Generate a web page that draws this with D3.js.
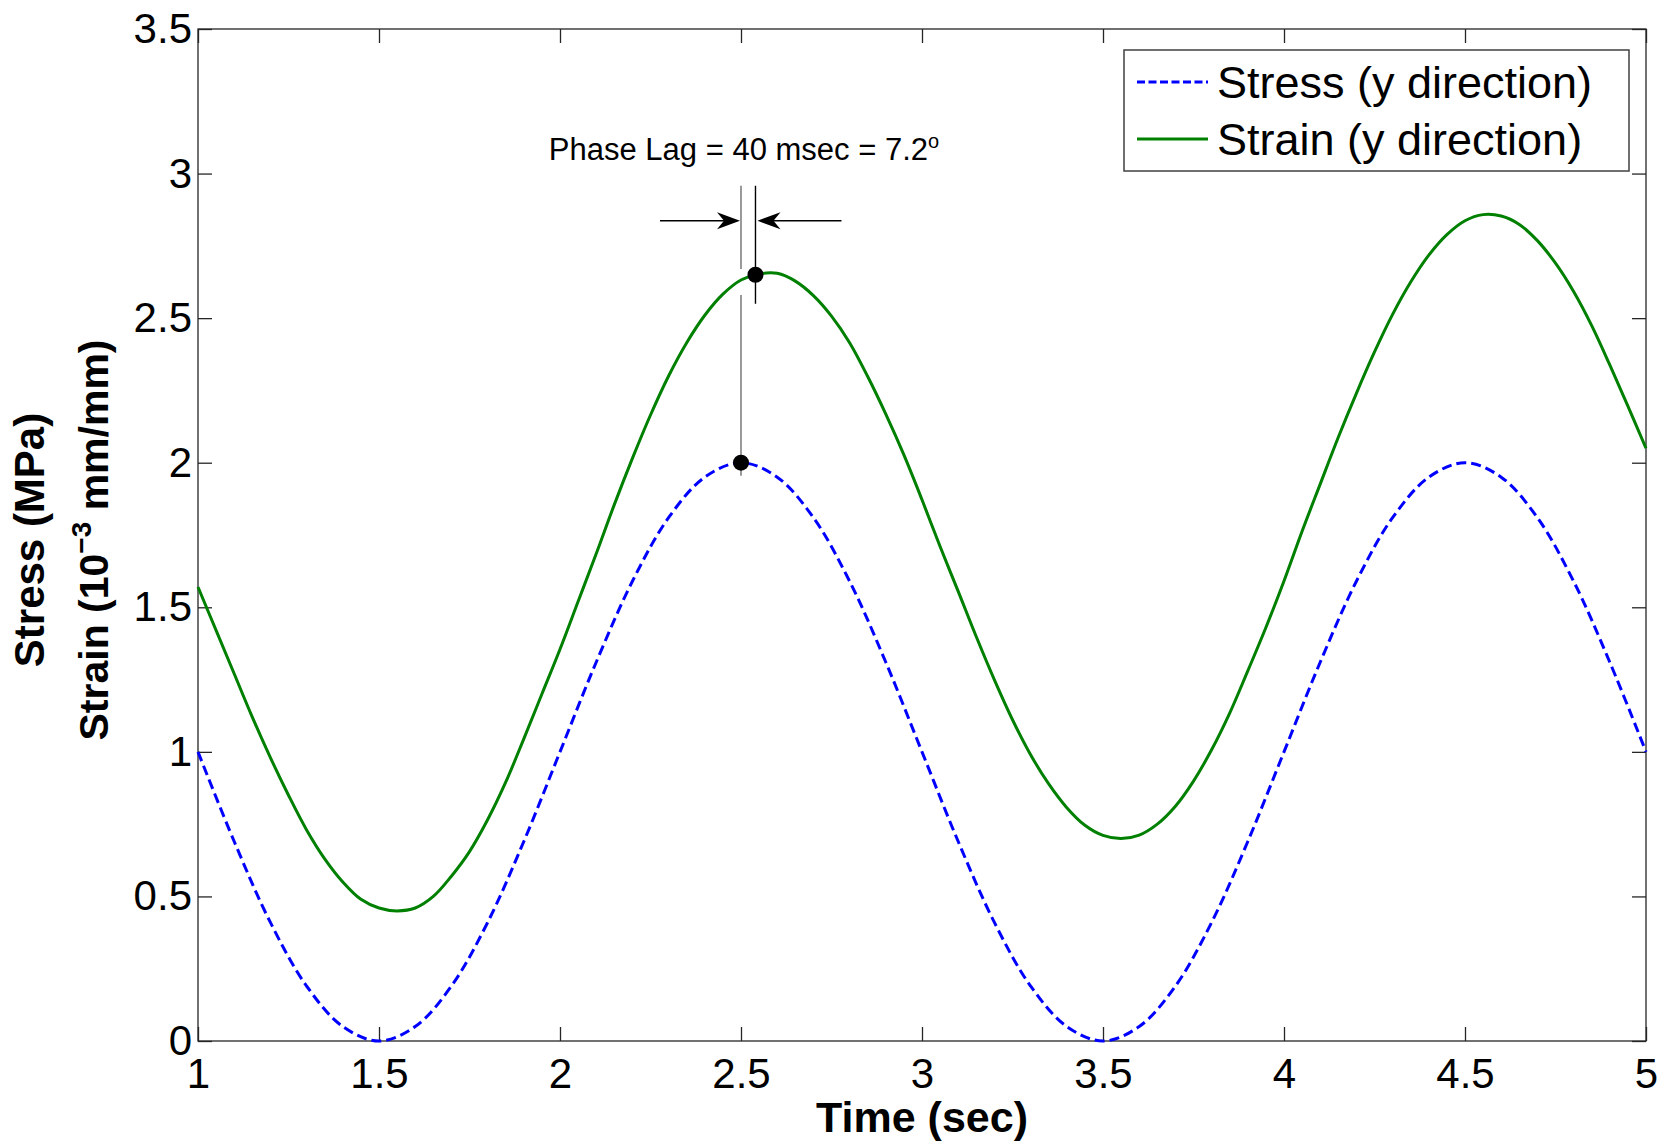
<!DOCTYPE html>
<html>
<head>
<meta charset="utf-8">
<script src="https://cdn.jsdelivr.net/npm/d3@7"></script>
<style>
  html, body { margin: 0; padding: 0; background: #fff; }
  svg { display: block; }
  text { font-family: "Liberation Sans", Arial, sans-serif; fill: #000; }
</style>
</head>
<body>
<svg id="chart" width="1670" height="1142"></svg>
<script>
// Axis tick values
const timeTicks = [1, 1.5, 2, 2.5, 3, 3.5, 4, 4.5, 5];
const valueTicks = [0, 0.5, 1, 1.5, 2, 2.5, 3, 3.5];

// Applied stress (MPa), sampled every 0.1 s
const stressTime = [1.0, 1.1, 1.2, 1.3, 1.4, 1.5, 1.6, 1.7, 1.8, 1.9,
  2.0, 2.1, 2.2, 2.3, 2.4, 2.5, 2.6, 2.7, 2.8, 2.9,
  3.0, 3.1, 3.2, 3.3, 3.4, 3.5, 3.6, 3.7, 3.8, 3.9,
  4.0, 4.1, 4.2, 4.3, 4.4, 4.5, 4.6, 4.7, 4.8, 4.9, 5.0];
const stressValue = [1.00, 0.69, 0.41, 0.19, 0.05, 0.00, 0.05, 0.19, 0.41, 0.69,
  1.00, 1.31, 1.59, 1.81, 1.95, 2.00, 1.95, 1.81, 1.59, 1.31,
  1.00, 0.69, 0.41, 0.19, 0.05, 0.00, 0.05, 0.19, 0.41, 0.69,
  1.00, 1.31, 1.59, 1.81, 1.95, 2.00, 1.95, 1.81, 1.59, 1.31, 1.00];

// Measured strain (10^-3 mm/mm), sampled every 0.05 s
const strainTime = [1.00, 1.05, 1.10, 1.15, 1.20, 1.25, 1.30, 1.35, 1.40, 1.45,
  1.50, 1.55, 1.60, 1.65, 1.70, 1.75, 1.80, 1.85, 1.90, 1.95,
  2.00, 2.05, 2.10, 2.15, 2.20, 2.25, 2.30, 2.35, 2.40, 2.45,
  2.50, 2.55, 2.60, 2.65, 2.70, 2.75, 2.80, 2.85, 2.90, 2.95,
  3.00, 3.05, 3.10, 3.15, 3.20, 3.25, 3.30, 3.35, 3.40, 3.45,
  3.50, 3.55, 3.60, 3.65, 3.70, 3.75, 3.80, 3.85, 3.90, 3.95,
  4.00, 4.05, 4.10, 4.15, 4.20, 4.25, 4.30, 4.35, 4.40, 4.45,
  4.50, 4.55, 4.60, 4.65, 4.70, 4.75, 4.80, 4.85, 4.90, 4.95, 5.00];
const strainValue = [1.57, 1.42, 1.27, 1.12, 0.98, 0.85, 0.73, 0.63, 0.55, 0.49,
  0.46, 0.45, 0.46, 0.50, 0.57, 0.655, 0.765, 0.895, 1.045, 1.20,
  1.355, 1.52, 1.685, 1.855, 2.015, 2.165, 2.30, 2.415, 2.51, 2.583,
  2.632, 2.653, 2.655, 2.628, 2.578, 2.507, 2.415, 2.298, 2.168, 2.027,
  1.872, 1.71, 1.555, 1.398, 1.249, 1.111, 0.99, 0.889, 0.807, 0.746,
  0.711, 0.70, 0.712, 0.75, 0.812, 0.899, 1.007, 1.134, 1.28, 1.43,
  1.591, 1.763, 1.926, 2.088, 2.24, 2.383, 2.513, 2.625, 2.718, 2.789,
  2.837, 2.858, 2.853, 2.824, 2.768, 2.69, 2.592, 2.474, 2.338, 2.196, 2.05];

// Peak markers: stress peak, then strain peak
const peakTime = [2.5, 2.54];
const peakValue = [2.0, 2.65];
const loadPeriodSec = 2;

const seriesNames = ["Stress (y direction)", "Strain (y direction)"];
const seriesColors = ["#0000ff", "#008000"];

const svg = d3.select("#chart");
const x = d3.scaleLinear().domain([1, 5]).range([198, 1646]);
const y = d3.scaleLinear().domain([0, 3.5]).range([1041, 29]);

const axisColor = "#262626";
const tickLen = 14;

function styleAxis(g) {
  g.select(".domain").remove();
  g.selectAll(".tick line").attr("stroke", axisColor).attr("stroke-width", 1.3);
  g.selectAll(".tick text").attr("fill", "#000")
    .style("font-family", '"Liberation Sans", Arial, sans-serif');
}

// Bottom axis with labels
svg.append("g")
  .attr("transform", `translate(0,${y(0)})`)
  .call(d3.axisBottom(x).tickValues(timeTicks).tickFormat(d => String(d))
    .tickSizeInner(-tickLen).tickSizeOuter(0).tickPadding(17))
  .call(styleAxis)
  .call(g => g.selectAll(".tick text").style("font-size", "42px"));

// Top axis (ticks only)
svg.append("g")
  .attr("transform", `translate(0,${y(3.5)})`)
  .call(d3.axisTop(x).tickValues(timeTicks).tickFormat("")
    .tickSizeInner(-tickLen).tickSizeOuter(0))
  .call(styleAxis);

// Left axis with labels
svg.append("g")
  .attr("transform", `translate(${x(1)},0)`)
  .call(d3.axisLeft(y).tickValues(valueTicks).tickFormat(d => String(d))
    .tickSizeInner(-tickLen).tickSizeOuter(0).tickPadding(6))
  .call(styleAxis)
  .call(g => g.selectAll(".tick text").style("font-size", "42px"));

// Right axis (ticks only)
svg.append("g")
  .attr("transform", `translate(${x(5)},0)`)
  .call(d3.axisRight(y).tickValues(valueTicks).tickFormat("")
    .tickSizeInner(-tickLen).tickSizeOuter(0))
  .call(styleAxis);

// Plot frame
svg.append("rect")
  .attr("x", x(1)).attr("y", y(3.5))
  .attr("width", x(5) - x(1)).attr("height", y(0) - y(3.5))
  .attr("fill", "none").attr("stroke", axisColor).attr("stroke-width", 1.3);

// Curves
const line = d3.line()
  .x(d => x(d[0]))
  .y(d => y(d[1]))
  .curve(d3.curveCatmullRom.alpha(0.5));

const stressPts = stressTime.map((t, i) => [t, stressValue[i]]);
const strainPts = strainTime.map((t, i) => [t, strainValue[i]]);

svg.append("path")
  .attr("d", line(strainPts))
  .attr("fill", "none")
  .attr("stroke", seriesColors[1])
  .attr("stroke-width", 3)
  .attr("stroke-linejoin", "round");

svg.append("path")
  .attr("d", line(stressPts))
  .attr("fill", "none")
  .attr("stroke", seriesColors[0])
  .attr("stroke-width", 3)
  .attr("stroke-dasharray", "10,5");

// Phase lag annotation
const ann = svg.append("g");
const xs = x(peakTime[0]), xe = x(peakTime[1]);
const ys = y(peakValue[0]), ye = y(peakValue[1]);
const strainAtStressPeak = strainValue[strainTime.indexOf(peakTime[0])];
const yCross = y(strainAtStressPeak);
const yTop = ye - 89;
const yArrow = ye - 54;

// vertical guide through the stress peak, broken where the strain curve passes
ann.append("line").attr("x1", xs).attr("x2", xs).attr("y1", ys + 13).attr("y2", yCross + 15)
  .attr("stroke", "#808080").attr("stroke-width", 1.6);
ann.append("line").attr("x1", xs).attr("x2", xs).attr("y1", yCross - 11).attr("y2", yTop)
  .attr("stroke", "#808080").attr("stroke-width", 1.6);
// vertical guide through the strain peak
ann.append("line").attr("x1", xe).attr("x2", xe).attr("y1", ye + 29).attr("y2", yTop)
  .attr("stroke", "#000").attr("stroke-width", 1.4);

// arrows pointing at the two guides
function arrow(xTip, xTail) {
  const dir = xTip > xTail ? 1 : -1;
  ann.append("line").attr("x1", xTail).attr("x2", xTip - dir * 10)
    .attr("y1", yArrow).attr("y2", yArrow)
    .attr("stroke", "#000").attr("stroke-width", 1.3);
  const L = 23, W = 8.5, N = 16;
  ann.append("path")
    .attr("d", `M${xTip},${yArrow} L${xTip - dir * L},${yArrow - W} L${xTip - dir * N},${yArrow} L${xTip - dir * L},${yArrow + W} Z`)
    .attr("fill", "#000");
}
arrow(xs - 1, xs - 81);
arrow(xe + 2, xe + 86);

// peak markers
ann.selectAll("circle.peak")
  .data(peakTime.map((t, i) => [t, peakValue[i]]))
  .join("circle")
  .attr("class", "peak")
  .attr("cx", d => x(d[0]))
  .attr("cy", d => y(d[1]))
  .attr("r", 8)
  .attr("fill", "#000");

// lag label
const lagMs = Math.round((peakTime[1] - peakTime[0]) * 1000);
const lagDeg = d3.format(".1f")((peakTime[1] - peakTime[0]) / loadPeriodSec * 360);
const lagText = ann.append("text")
  .attr("x", xs + 3).attr("y", 160)
  .attr("text-anchor", "middle")
  .style("font-size", "31px");
lagText.append("tspan").text(`Phase Lag = ${lagMs} msec = ${lagDeg}`);
lagText.append("tspan").attr("dy", -12).style("font-size", "20px").text("o");

// Axis titles
svg.append("text")
  .attr("x", x(3)).attr("y", 1132)
  .attr("text-anchor", "middle")
  .style("font-size", "43px").style("font-weight", "bold")
  .text("Time (sec)");

svg.append("text")
  .attr("transform", "translate(44,540) rotate(-90)")
  .attr("text-anchor", "middle")
  .style("font-size", "42px").style("font-weight", "bold")
  .text("Stress (MPa)");

const yLab2 = svg.append("text")
  .attr("transform", "translate(108,540) rotate(-90)")
  .attr("text-anchor", "middle")
  .style("font-size", "41px").style("font-weight", "bold");
yLab2.append("tspan").text("Strain (10");
yLab2.append("tspan").attr("dy", -17).style("font-size", "28px").text("−3");
yLab2.append("tspan").attr("dy", 17).text(" mm/mm)");

// Legend
const lg = svg.append("g");
lg.append("rect")
  .attr("x", 1124).attr("y", 50).attr("width", 505).attr("height", 121)
  .attr("fill", "#fff").attr("stroke", "#404040").attr("stroke-width", 1.5);
const rowY = [82, 139];
seriesNames.forEach((name, i) => {
  lg.append("line")
    .attr("x1", 1137).attr("x2", 1208)
    .attr("y1", rowY[i]).attr("y2", rowY[i])
    .attr("stroke", seriesColors[i]).attr("stroke-width", 3)
    .attr("stroke-dasharray", i === 0 ? "8,3.5" : null);
  lg.append("text")
    .attr("x", 1217).attr("y", rowY[i] + 16)
    .style("font-size", "45px")
    .text(name);
});
</script>
</body>
</html>
